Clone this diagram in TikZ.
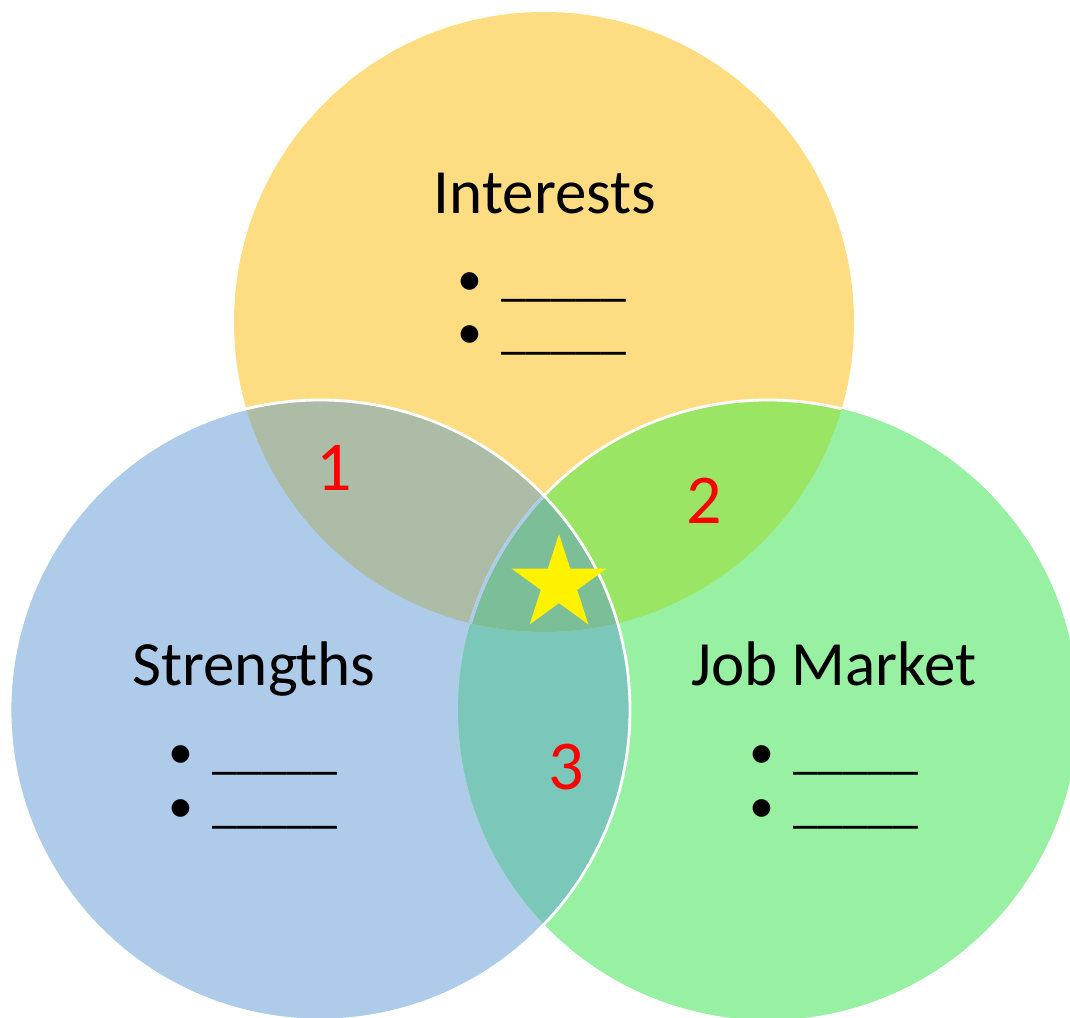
\documentclass[tikz,border=0pt]{standalone}
\usepackage{fontspec}
\setmainfont{Carlito}
\usetikzlibrary{shapes.geometric}
\definecolor{interestfill}{HTML}{FEDD82}
\definecolor{strengthfill}{HTML}{AECCE9}
\definecolor{marketfill}{HTML}{98F1A2}
\definecolor{fillone}{HTML}{ADBCA7}
\definecolor{filltwo}{HTML}{9BE565}
\definecolor{fillthree}{HTML}{7BC8BA}
\definecolor{fillcenter}{HTML}{7BBE98}
\tikzset{
  heading/.style = {font=\fontsize{31.5}{38}\selectfont, anchor=base},
  blank/.style = {font=\fontsize{25}{30}\selectfont, anchor=base},
  region/.style = {text=red, font=\fontsize{35}{42}\selectfont, anchor=base},
  rim/.style = {draw=white, line width=1.4pt}
}
\newcommand{\blankline}{\textbullet\hspace{0.38em}\_\_\_\_\_}

\begin{document}
\begin{tikzpicture}[x=0.5pt,y=-0.5pt]
  \useasboundingbox (0,0) rectangle (1070,1017);
  \clip (0,0) rectangle (1070,1017);
  \coordinate (interests) at (544,322);
  \coordinate (strengths) at (320,710);
  \coordinate (market) at (768,710);
  % the three disks
  \fill[interestfill] (interests) circle (155pt);
  \fill[strengthfill] (strengths) circle (155pt);
  \fill[marketfill] (market) circle (155pt);
  % overlaps
  \begin{scope}
    \clip (strengths) circle (155pt);
    \fill[fillthree] (market) circle (155pt);
  \end{scope}
  \begin{scope}
    \clip (interests) circle (155pt);
    \fill[fillone] (strengths) circle (155pt);
    \fill[filltwo] (market) circle (155pt);
    \clip (strengths) circle (155pt);
    \fill[fillcenter] (market) circle (155pt);
  \end{scope}
  % rims
  \begin{scope}
    \clip (interests) circle (155pt);
    \draw[rim] (market) circle (155pt);
    \clip (strengths) circle (155pt);
    \draw[strengthfill, line width=1.6pt] (market) circle (155pt);
  \end{scope}
  \draw[rim] (strengths) circle (155pt);
  % texts
  \node[heading] (interesttitle) at (545,213) {Interests};
  \node[blank] (interestone) at (542,295) {\blankline};
  \node[blank] (interesttwo) at (542,348) {\blankline};
  \node[heading] (strengthtitle) at (254,685) {Strengths};
  \node[blank] (strengthone) at (253,768) {\blankline};
  \node[blank] (strengthtwo) at (253,822) {\blankline};
  \node[heading] (markettitle) at (834,685) {Job Market};
  \node[blank] (marketone) at (834,768) {\blankline};
  \node[blank] (markettwo) at (834,822) {\blankline};
  \node[region] (one) at (334,490) {1};
  \node[region] (two) at (704,523) {2};
  \node[region] (three) at (566,789) {3};
  \node[star, star points=5, star point ratio=2.618, minimum size=50pt,
        inner sep=0pt, fill=yellow] (goal) at (559,584) {};
\end{tikzpicture}
\end{document}
